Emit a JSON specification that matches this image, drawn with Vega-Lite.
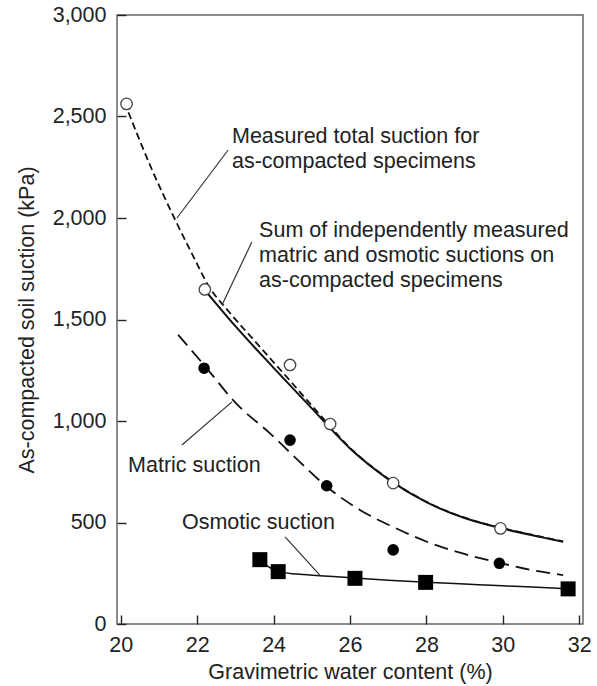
{
  "$schema": "https://vega.github.io/schema/vega-lite/v6.json",
  "width": 466,
  "height": 609,
  "autosize": {"type": "none"},
  "padding": {"left": 117, "top": 15, "right": 14, "bottom": 62},
  "background": "white",
  "config": {
    "view": {"stroke": "#666", "strokeWidth": 1.5},
    "font": "Liberation Sans",
    "axis": {
      "grid": false,
      "domain": false,
      "offset": -9,
      "tickColor": "#222",
      "tickWidth": 1.4,
      "tickSize": 9,
      "labelFont": "Liberation Sans",
      "labelFontSize": 21.5,
      "labelColor": "#222",
      "titleFont": "Liberation Sans",
      "titleFontSize": 21.5,
      "titleFontWeight": "normal",
      "titleColor": "#222"
    }
  },
  "datasets": {
    "total_line": [
      {"x": 20.2, "y": 2520}, {"x": 20.8, "y": 2245}, {"x": 21.4, "y": 2000}, {"x": 21.9, "y": 1810},
      {"x": 22.3, "y": 1665}, {"x": 22.8, "y": 1545}, {"x": 23.5, "y": 1395}, {"x": 24.4, "y": 1205},
      {"x": 25.3, "y": 1012}, {"x": 26, "y": 868}, {"x": 27, "y": 716}, {"x": 28, "y": 602},
      {"x": 29, "y": 524}, {"x": 30, "y": 472}, {"x": 31, "y": 430}, {"x": 31.58, "y": 407}
    ],
    "sum_line": [
      {"x": 22.2, "y": 1645}, {"x": 23, "y": 1467}, {"x": 24, "y": 1262}, {"x": 25, "y": 1062},
      {"x": 26, "y": 865}, {"x": 27, "y": 714}, {"x": 28, "y": 600}, {"x": 29, "y": 522},
      {"x": 30, "y": 470}, {"x": 31, "y": 428}, {"x": 31.58, "y": 405}
    ],
    "matric_line": [
      {"x": 21.5, "y": 1425}, {"x": 22.24, "y": 1262}, {"x": 23.0, "y": 1090}, {"x": 23.9, "y": 940},
      {"x": 24.65, "y": 805}, {"x": 25.4, "y": 675}, {"x": 26.26, "y": 562}, {"x": 27.13, "y": 478},
      {"x": 28.03, "y": 404}, {"x": 28.9, "y": 350}, {"x": 29.95, "y": 300}, {"x": 30.7, "y": 268},
      {"x": 31.58, "y": 241}
    ],
    "osmotic_line": [
      {"x": 23.64, "y": 312}, {"x": 24.12, "y": 258}, {"x": 24.6, "y": 246}, {"x": 25.21, "y": 238},
      {"x": 26.13, "y": 226}, {"x": 27.0, "y": 216}, {"x": 28.0, "y": 206}, {"x": 29.0, "y": 197},
      {"x": 30.0, "y": 188}, {"x": 30.9, "y": 181}, {"x": 31.71, "y": 174}
    ],
    "open_pts": [
      {"x": 20.15, "y": 2562}, {"x": 22.2, "y": 1648}, {"x": 24.43, "y": 1276},
      {"x": 25.48, "y": 985}, {"x": 27.13, "y": 694}, {"x": 29.94, "y": 471}
    ],
    "filled_pts": [
      {"x": 22.18, "y": 1260}, {"x": 24.43, "y": 906}, {"x": 25.39, "y": 681},
      {"x": 27.13, "y": 365}, {"x": 29.91, "y": 299}
    ],
    "square_pts": [
      {"x": 23.64, "y": 317}, {"x": 24.12, "y": 258}, {"x": 26.13, "y": 225},
      {"x": 27.98, "y": 205}, {"x": 31.71, "y": 173}
    ],
    "leaders": [
      {"x": 22.81, "y": 2335, "x2": 21.47, "y2": 2000},
      {"x": 23.43, "y": 1882, "x2": 22.65, "y2": 1571},
      {"x": 21.6, "y": 882, "x2": 22.91, "y2": 1094},
      {"x": 24.3, "y": 429, "x2": 25.21, "y2": 241}
    ],
    "labels": [
      {"x": 22.91, "y": 2369, "t": "Measured total suction for"},
      {"x": 22.91, "y": 2246, "t": "as-compacted specimens"},
      {"x": 23.62, "y": 1906, "t": "Sum of independently measured"},
      {"x": 23.62, "y": 1783, "t": "matric and osmotic suctions on"},
      {"x": 23.62, "y": 1660, "t": "as-compacted specimens"},
      {"x": 20.19, "y": 749, "t": "Matric suction"},
      {"x": 21.6, "y": 468, "t": "Osmotic suction"}
    ]
  },
  "encoding": {
    "x": {
      "field": "x", "type": "quantitative",
      "scale": {"domain": [19.9, 32.1], "nice": false, "zero": false},
      "axis": {"values": [20, 22, 24, 26, 28, 30, 32], "title": "Gravimetric water content (%)", "labelPadding": 10, "titlePadding": 6}
    },
    "y": {
      "field": "y", "type": "quantitative",
      "scale": {"domain": [0, 3000], "nice": false},
      "axis": {"values": [0, 500, 1000, 1500, 2000, 2500, 3000], "format": ",d", "title": "As-compacted soil suction (kPa)", "labelPadding": 11, "titlePadding": 14}
    }
  },
  "layer": [
    {"data": {"name": "total_line"}, "mark": {"type": "line", "interpolate": "monotone", "color": "#111", "strokeWidth": 1.8, "strokeDash": [7, 4]}},
    {"data": {"name": "sum_line"}, "mark": {"type": "line", "interpolate": "monotone", "color": "#111", "strokeWidth": 2}},
    {"data": {"name": "matric_line"}, "mark": {"type": "line", "interpolate": "monotone", "color": "#111", "strokeWidth": 1.8, "strokeDash": [14, 7]}},
    {"data": {"name": "osmotic_line"}, "mark": {"type": "line", "interpolate": "monotone", "color": "#111", "strokeWidth": 1.5}},
    {"data": {"name": "leaders"}, "mark": {"type": "rule", "color": "#333", "strokeWidth": 1.2},
     "encoding": {"x2": {"field": "x2"}, "y2": {"field": "y2"}}},
    {"data": {"name": "open_pts"}, "mark": {"type": "point", "shape": "circle", "size": 130, "filled": false, "fill": "white", "fillOpacity": 1, "stroke": "#444", "strokeWidth": 1.3, "opacity": 1}},
    {"data": {"name": "filled_pts"}, "mark": {"type": "point", "shape": "circle", "size": 135, "filled": true, "color": "#000", "opacity": 1}},
    {"data": {"name": "square_pts"}, "mark": {"type": "point", "shape": "square", "size": 225, "filled": true, "color": "#000", "opacity": 1}},
    {"data": {"name": "labels"}, "mark": {"type": "text", "align": "left", "baseline": "alphabetic", "font": "Liberation Sans", "fontSize": 21.5, "color": "#222"},
     "encoding": {"text": {"field": "t"}}}
  ]
}
